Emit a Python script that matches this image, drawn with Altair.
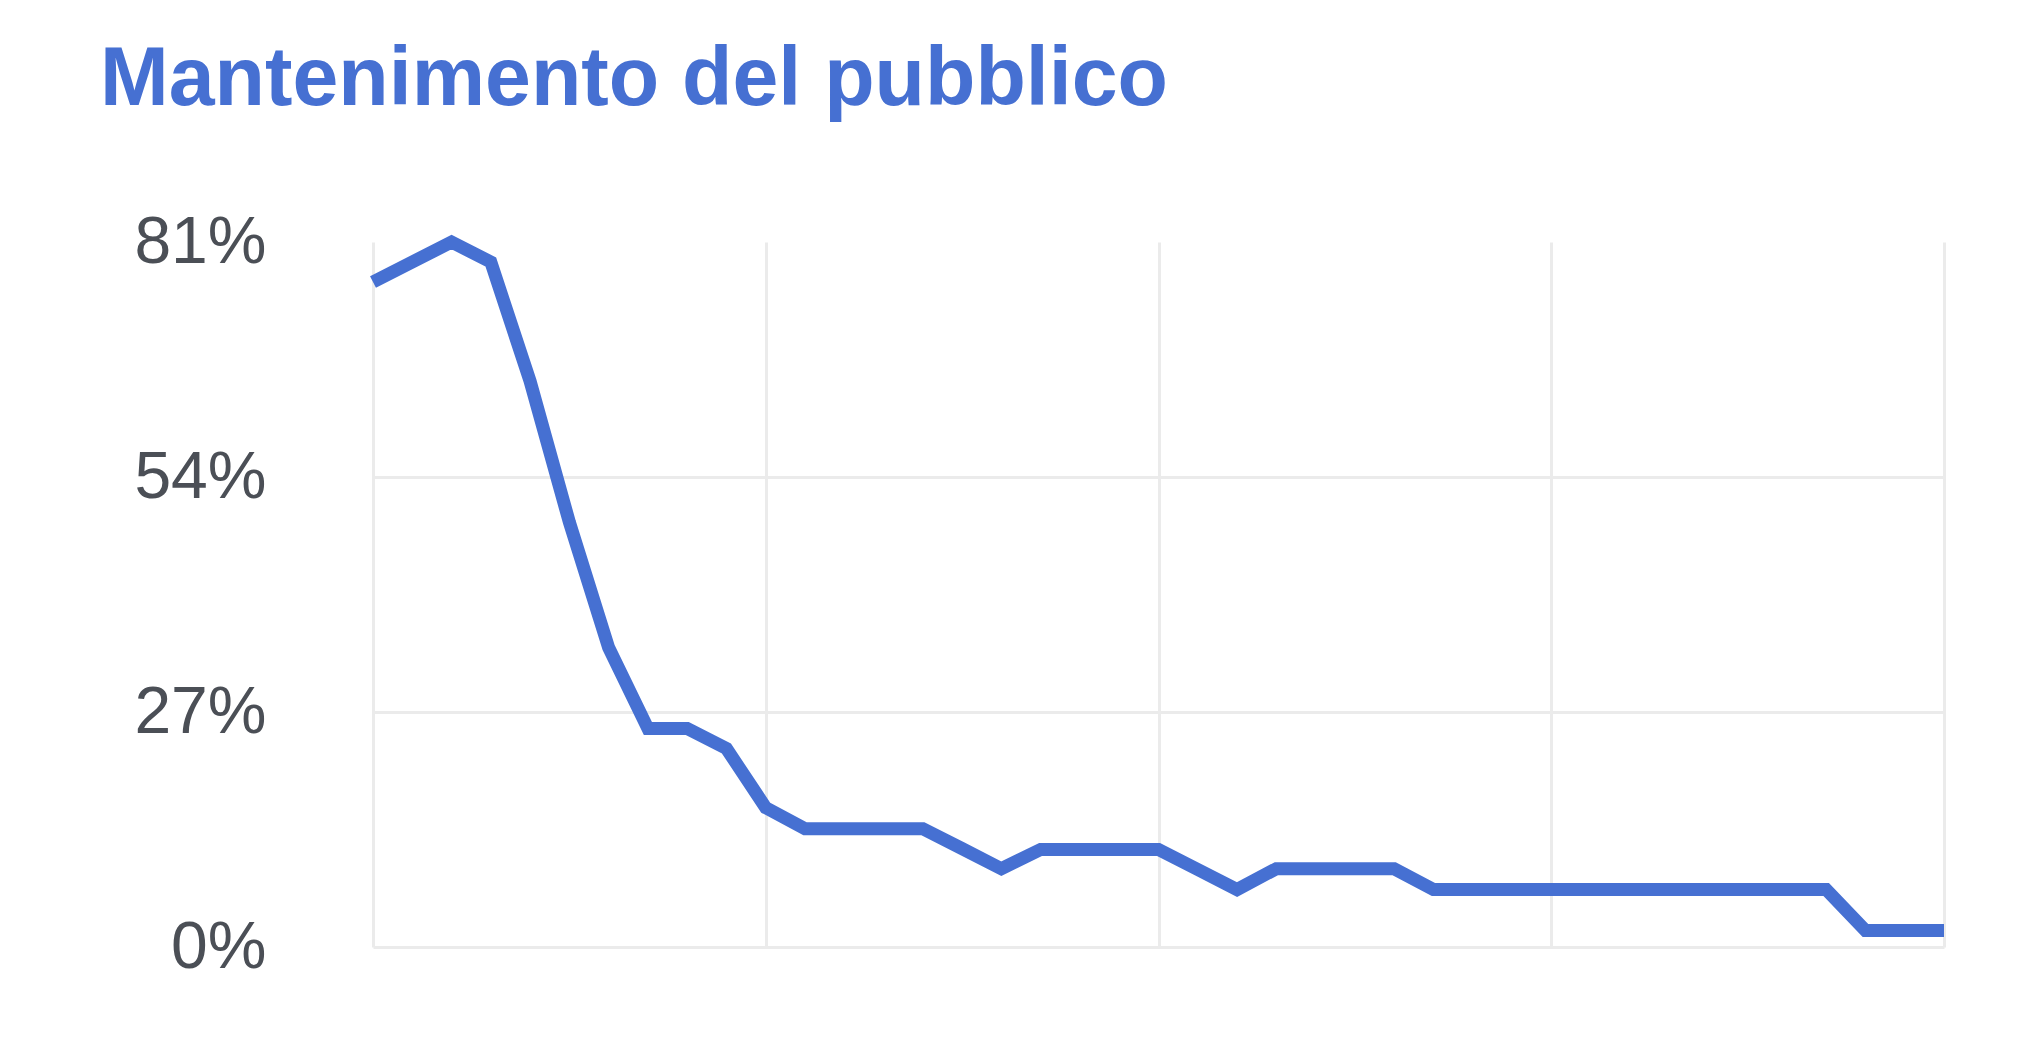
import altair as alt
import pandas as pd

# Audience retention (%), one value per time step (41 steps)
step = list(range(41))
retention = [
    76.4, 78.7, 81.0, 78.7, 65.0, 48.8, 34.4, 25.1, 25.1, 22.8,
    16.0, 13.6, 13.6, 13.6, 13.6, 11.3, 9.0, 11.2, 11.2, 11.2,
    11.2, 8.9, 6.6, 9.0, 9.0, 9.0, 9.0, 6.6, 6.6, 6.6,
    6.6, 6.6, 6.6, 6.6, 6.6, 6.6, 6.6, 6.6, 1.9, 1.9,
    1.9,
]
y_ticks = [0, 27, 54, 81]
x_grid = [0, 10, 20, 30, 40]

df = pd.DataFrame({"step": step, "retention": retention})

line = alt.Chart(df).mark_line(
    color="#4670D2", strokeWidth=13, strokeJoin="miter", clip=False
).encode(
    x=alt.X(
        "step:Q",
        scale=alt.Scale(domain=[0, 40], nice=False, zero=False),
        axis=alt.Axis(
            values=x_grid, labels=False, ticks=False, tickSize=0, domain=False,
            title=None, grid=True, gridColor="#EBEBEB", gridWidth=3,
        ),
    ),
    y=alt.Y(
        "retention:Q",
        scale=alt.Scale(domain=[0, 81], nice=False),
        axis=alt.Axis(
            values=y_ticks, labelExpr="datum.value + '%'", ticks=False, tickSize=0,
            domain=False, title=None, grid=True, gridColor="#EBEBEB", gridWidth=3,
            gridOpacity={"condition": {"test": "datum.value === 81", "value": 0}, "value": 1},
            labelFont="Liberation Sans", labelFontSize=66, labelColor="#4B4F56",
            labelPadding=107,
        ),
    ),
)

chart = line.properties(
    width=1571,
    height=705,
    background="white",
    title=alt.TitleParams(
        "Mantenimento del pubblico",
        anchor="start",
        frame="group",
        dx=-273,
        offset=87,
        font="Liberation Sans",
        fontSize=82.5,
        fontWeight="bold",
        color="#4670D2",
    ),
    padding={"left": 92, "top": 30, "right": 5, "bottom": 5},
).configure_view(strokeWidth=0)

chart.save("out.html", embed_options={"renderer": "svg", "actions": False})
